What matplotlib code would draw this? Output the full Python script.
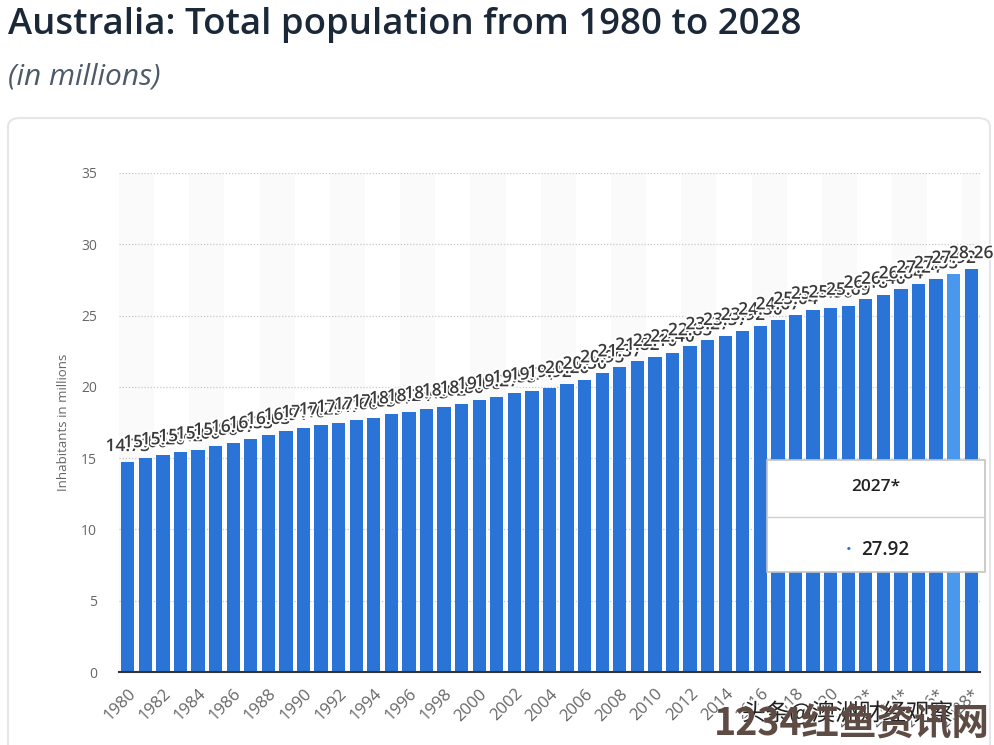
import matplotlib
matplotlib.use('Agg')
import matplotlib.pyplot as plt
import matplotlib.patheffects as pe
from matplotlib.patches import FancyBboxPatch, Rectangle

years = list(range(1980, 2029))
population = [14.73, 15.0, 15.2, 15.42, 15.6, 15.86, 16.07, 16.33, 16.63, 16.91,
              17.1, 17.29, 17.47, 17.66, 17.85, 18.07, 18.24, 18.43, 18.62, 18.8,
              19.08, 19.27, 19.55, 19.74, 19.92, 20.2, 20.5, 20.95, 21.37, 21.82,
              22.1, 22.4, 22.85, 23.27, 23.57, 23.92, 24.3, 24.67, 25.04, 25.41,
              25.5, 25.69, 26.18, 26.46, 26.84, 27.24, 27.55, 27.92, 28.26]
first_forecast = 2022
hover_year = 2027
y_ticks = [0, 5, 10, 15, 20, 25, 30, 35]

plt.rcParams['font.family'] = ['Open Sans', 'DejaVu Sans']

W, H = 994, 745
fig = plt.figure(figsize=(W / 100, H / 100), dpi=100)
fig.patch.set_facecolor('white')

# card behind the chart
card = FancyBboxPatch((8 / W, -0.05), 982 / W, 1 - 118 / H + 0.05,
                      boxstyle='round,pad=0,rounding_size=0.012',
                      transform=fig.transFigure, facecolor='white',
                      edgecolor='#e6e6ea', linewidth=1.5, zorder=-10)
fig.patches.append(card)

fig.text(8 / W, 1 - 25 / H, 'Australia: Total population from 1980 to 2028',
         fontsize=26.3, fontweight='semibold', color='#1b2838', va='center', ha='left')
fig.text(8 / W, 1 - 77 / H, '(in millions)', fontsize=21.5, style='italic',
         color='#4d5a68', va='center', ha='left')

ax = fig.add_axes([119 / W, 1 - 672 / H, (980 - 119) / W, (672 - 173) / H])
ax.set_facecolor('none')
ax.set_zorder(1)

x = list(range(len(years)))

# faint alternating background bands
for i in range(0, len(years), 4):
    ax.axvspan(i - 0.5, i + 1.5, color='#fafafb', zorder=0, lw=0)

colors = ['#4a97ee' if y == hover_year else '#2a74d8' for y in years]
bars = ax.bar(x, population, width=0.76, color=colors, zorder=2)

for xi, v in zip(x, population):
    ax.annotate(f'{v:.2f}', (xi, v), xytext=(0, 5), textcoords='offset points',
                ha='center', va='bottom', fontsize=12.5, fontweight='semibold',
                color='#3a3a3a', zorder=4,
                path_effects=[pe.withStroke(linewidth=2.5, foreground='white')])

ax.set_xlim(-0.5, len(years) - 0.5)
ax.set_ylim(0, 35)
ax.set_yticks(y_ticks)
ax.yaxis.grid(True, linestyle=(0, (1, 1.5)), color='#c8c8c8', linewidth=0.9, zorder=1)
ax.set_axisbelow(True)

tick_pos = x[::2]
tick_lab = [f'{y}*' if y >= first_forecast else str(y) for y in years[::2]]
ax.set_xticks(tick_pos)
ax.set_xticklabels(tick_lab, rotation=45, ha='right', rotation_mode='anchor',
                   fontsize=12, color='#666666')
ax.tick_params(axis='x', length=0, pad=10)
ax.tick_params(axis='y', length=0, pad=16, labelsize=10, labelcolor='#666666')

for s in ['top', 'right', 'left']:
    ax.spines[s].set_visible(False)
ax.spines['bottom'].set_color('#333333')
ax.spines['bottom'].set_linewidth(1.5)

ax.set_ylabel('Inhabitants in millions', fontsize=9.5, color='#666666', labelpad=8)

# tooltip box
tx0, ty0, tw, th = 767 / W, 1 - 572 / H, (985 - 767) / W, (572 - 460) / H
fig.patches.append(Rectangle((tx0, ty0), tw, th, transform=fig.transFigure,
                             facecolor='white', edgecolor='#c4c4c4', linewidth=1.2,
                             zorder=10))
fig.lines.append(plt.Line2D([tx0, tx0 + tw], [1 - 517 / H, 1 - 517 / H],
                            transform=fig.transFigure, color='#d0d0d0',
                            linewidth=1, zorder=11))
idx = years.index(hover_year)
fig.text(tx0 + tw / 2, 1 - 487 / H, f'{hover_year}*', ha='center', va='center',
         fontsize=12.5, fontweight='semibold', color='#222222', zorder=12)
fig.text(885 / W, 1 - 550 / H, f'{population[idx]:.2f}', ha='center',
         va='center', fontsize=13.5, fontweight='semibold', color='#222222', zorder=12)
fig.text(849 / W, 1 - 550 / H, '•', ha='center', va='center', fontsize=11,
         color='#2a74d8', zorder=12)

# watermarks
fig.text(742 / W, 1 - 713 / H, '头条@澳洲财经观察', fontsize=17,
         family=['Noto Sans CJK SC', 'DejaVu Sans'], color='#222222', va='center',
         ha='left', zorder=13,
         path_effects=[pe.withStroke(linewidth=3, foreground='white')])
fig.text(990 / W, 1 - 724 / H, '1234红鱼资讯网', fontsize=27, fontweight='bold',
         family=['Noto Sans CJK SC', 'DejaVu Sans'], color='#5e4b44', va='center',
         ha='right', zorder=14)

fig.savefig('out.png', dpi=100)
